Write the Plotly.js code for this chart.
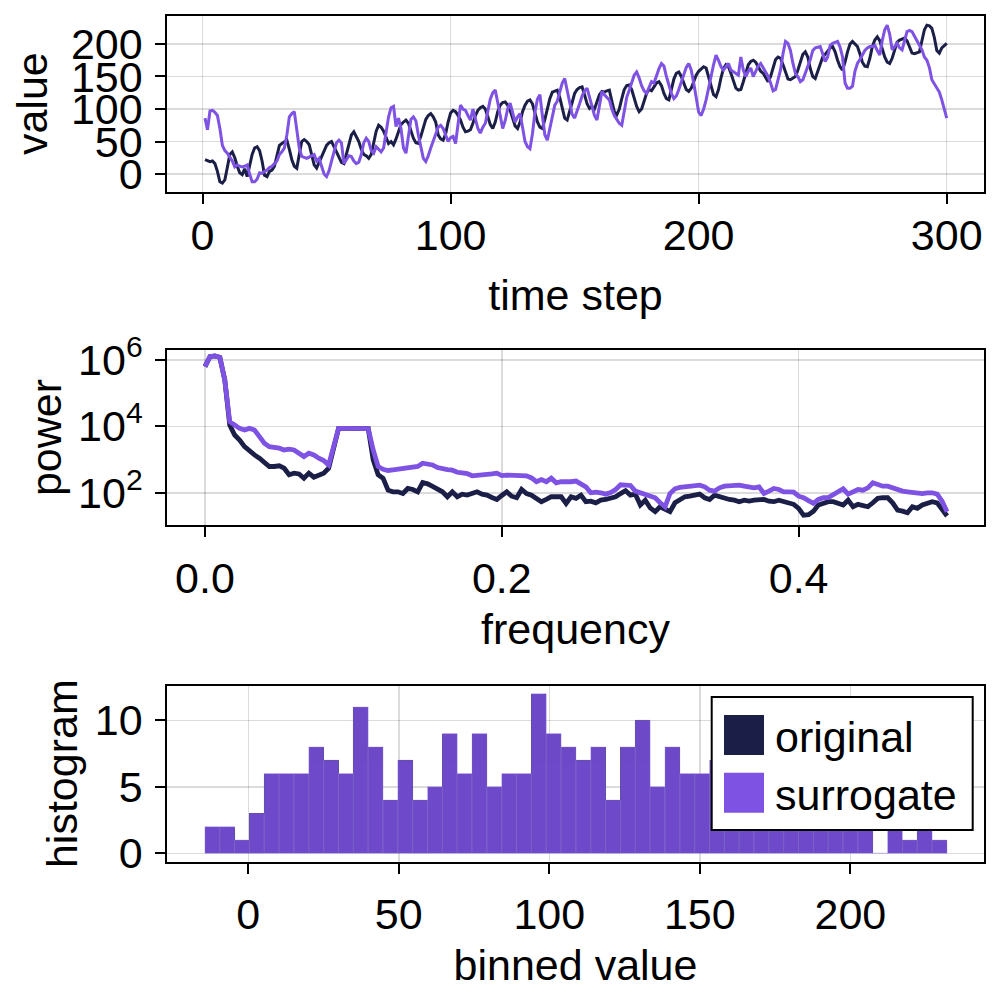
<!DOCTYPE html>
<html>
<head>
<meta charset="utf-8">
<script src="https://cdn.plot.ly/plotly-3.0.1.min.js"></script>
<style>html,body{margin:0;padding:0;background:#fff;}#chart{width:1000px;height:1000px;}</style>
</head>
<body>
<div id="chart"></div>
<script>
// ---------- data ----------
const seriesNames = ["original", "surrogate"];

const originalValues = [
  22,21,19,20,16,4,-12,-14,-9,10,
  30,34,25,12,2,-1,8,-4,12,30,
  40,42,36,20,-2,-4,4,6,12,30,
  44,47,50,52,38,22,12,9,30,50,
  53,50,45,28,14,9,18,28,36,44,
  48,50,42,34,24,18,16,30,48,60,
  65,58,50,38,30,28,24,30,48,66,
  75,72,66,55,47,50,45,54,64,76,
  80,83,78,66,55,48,47,58,72,84,
  90,93,88,80,60,54,52,62,80,94,
  98,96,90,83,72,65,66,68,78,90,
  98,102,104,100,88,76,70,80,96,106,
  110,111,106,98,86,74,70,80,96,106,
  112,114,108,94,80,72,70,84,102,116,
  126,128,129,118,100,86,83,95,110,124,
  130,133,134,122,108,101,104,100,110,122,
  127,126,128,129,112,96,91,100,116,130,
  136,137,130,118,104,96,100,112,124,130,
  128,134,140,142,136,124,116,114,128,146,
  155,157,150,140,130,127,132,142,152,158,
  162,165,163,150,135,122,119,130,148,162,
  168,165,155,142,132,129,130,142,156,168,
  173,175,172,165,158,155,148,142,150,165,
  176,180,178,168,155,146,145,148,150,160,
  174,184,188,180,162,150,147,158,172,180,
  184,190,194,196,188,175,165,160,172,188,
  200,204,200,196,185,172,166,165,178,196,
  206,211,205,192,180,172,170,178,192,203,
  206,208,209,205,195,186,185,186,188,205,
  222,229,228,224,210,190,186,194,198,201
];

const surrogateValues = [
  86,68,97,98,95,90,70,44,36,32,
  26,20,11,14,12,11,12,14,0,-12,
  -12,-8,2,1,4,6,10,12,16,20,
  30,34,40,60,88,93,96,70,40,27,
  26,24,26,28,30,20,24,12,0,-4,
  5,20,36,48,52,48,16,22,28,27,
  20,16,18,30,48,55,50,36,32,42,
  38,34,40,62,88,102,104,73,86,70,
  40,32,60,84,88,82,60,40,24,19,
  28,40,50,62,72,75,70,60,50,56,
  58,47,80,106,100,98,90,83,100,86,
  70,63,72,78,95,115,125,129,110,88,
  70,82,100,109,95,80,88,93,72,50,
  42,39,62,95,115,122,90,60,52,70,
  90,106,112,125,140,147,130,108,92,86,
  96,108,120,128,132,118,100,90,83,105,
  127,122,118,114,100,90,84,78,75,96,
  118,129,140,152,157,148,136,128,124,134,
  142,140,152,162,170,166,150,136,124,116,
  120,130,142,155,164,170,160,140,118,95,
  90,100,114,130,150,168,183,175,165,160,
  166,170,160,157,154,152,180,160,150,158,
  163,150,158,166,170,163,157,150,140,128,
  130,145,160,185,204,201,190,170,155,150,
  142,145,155,165,176,190,194,195,196,185,
  173,180,198,201,203,204,195,180,140,132,
  132,135,158,170,176,183,190,194,196,196,
  198,190,183,205,222,229,215,191,196,201,
  194,191,205,219,221,219,212,206,198,191,
  180,175,164,145,139,132,126,114,100,86
];

const originalPower = [
  6.3e5,1.26e6,1.32e6,1.2e6,2.5e5,1.1e4,5.5e3,3.9e3,2.45e3,1.74e3,
  1.38e3,1.1e3,780,620,620,650,550,350,390,370,
  275,390,295,325,390,550,2.45e3,8.7e3,8.7e3,8.7e3,
  8.7e3,8.7e3,8.7e3,8.5e3,980,350,275,120,107,107,
  95,135,126,107,204,186,155,123,107,76,
  107,76,91,85,95,107,91,85,72,63,
  83,107,79,71,126,95,85,71,54,63,
  76,76,76,48,76,68,85,54,56,50,
  60,63,68,76,95,115,85,91,43,60,
  35,27,38,32,27,50,63,76,79,85,
  91,71,63,85,76,68,63,60,54,60,
  56,60,63,63,56,54,60,54,50,45,
  34,21,22,28,43,50,54,54,48,43,
  60,38,45,43,38,50,68,71,71,50,
  30,28,25,38,34,43,50,54,50,32,
  20
];

const surrogatePower = [
  6.3e5,1.26e6,1.32e6,1.2e6,2.5e5,1.38e4,1.1e4,8.7e3,7.8e3,8.7e3,
  7.8e3,4.9e3,3.1e3,2.45e3,2.35e3,2.2e3,1.95e3,2.05e3,1.95e3,1.55e3,
  1.23e3,1.55e3,1.38e3,1.1e3,930,690,2.45e3,8.7e3,8.7e3,8.7e3,
  8.7e3,8.7e3,8.7e3,8.5e3,1.95e3,620,510,470,490,510,
  510,550,550,620,780,740,690,575,525,500,
  480,415,400,380,325,330,345,355,370,390,
  330,340,330,345,330,325,280,215,250,215,
  275,200,215,210,215,225,180,150,100,105,
  100,91,102,126,174,166,166,112,100,91,
  79,71,50,38,95,132,145,151,151,158,
  170,151,120,112,141,158,166,174,170,158,
  151,141,151,95,112,135,126,107,107,105,
  79,71,58,48,63,71,72,89,115,132,
  91,112,126,120,141,200,178,158,158,141,
  120,112,107,105,95,95,100,100,91,56,
  27
];

// histogram: 50 equal bins starting at histStart, width histWidth
const histStart = -14.4;
const histWidth = 4.93;
const histCounts = [
  2,2,1,3,6,6,6,8,7,6,
  11,8,4,7,4,5,9,6,9,5,
  6,6,12,9,8,7,8,4,8,10,
  5,8,6,6,7,7,8,6,9,6,
  8,7,5,7,5,0,3,1,2,1
];

const xTicks1 = [0,100,200,300];
const yTicks1 = [0,50,100,150,200];
const xTicks2 = [0,0.2,0.4];
const xTickText2 = ["0.0","0.2","0.4"];
const yTicks2 = [1e2,1e4,1e6];
const yTickText2 = ["10<sup>2</sup>","10<sup>4</sup>","10<sup>6</sup>"];
const xTicks3 = [0,50,100,150,200];
const yTicks3 = [0,5,10];

// ---------- derived domains ----------
const timeStep = originalValues.map((_, i) => i + 1);
const frequency = originalPower.map((_, i) => i / 300);
const binCenters = histCounts.map((_, k) => histStart + histWidth * (k + 0.5));

// ---------- style ----------
const NAVY = "#1b1f47";
const PURPLE = "#7e52e2";
const FONT = "Liberation Sans, Arial, Helvetica, sans-serif";
const FS = 43;

const traces = [
  {x: timeStep, y: originalValues, type: "scatter", mode: "lines", name: seriesNames[0],
   line: {color: NAVY, width: 3}, xaxis: "x", yaxis: "y", showlegend: false},
  {x: timeStep, y: surrogateValues, type: "scatter", mode: "lines", name: seriesNames[1],
   line: {color: PURPLE, width: 3}, xaxis: "x", yaxis: "y", showlegend: false},
  {x: frequency, y: originalPower, type: "scatter", mode: "lines", name: seriesNames[0],
   line: {color: NAVY, width: 4.8}, xaxis: "x2", yaxis: "y2", showlegend: false},
  {x: frequency, y: surrogatePower, type: "scatter", mode: "lines", name: seriesNames[1],
   line: {color: PURPLE, width: 4.8}, xaxis: "x2", yaxis: "y2", showlegend: false},
  {x: binCenters, y: histCounts, type: "bar", width: histWidth, name: seriesNames[0],
   marker: {color: NAVY, line: {width: 0}}, xaxis: "x3", yaxis: "y3", showlegend: false},
  {x: binCenters, y: histCounts, type: "bar", width: histWidth, name: seriesNames[1],
   marker: {color: PURPLE, opacity: 0.84, line: {width: 0.6, color: "rgba(160,140,225,0.7)"}},
   xaxis: "x3", yaxis: "y3", showlegend: false}
];

function axisBase(extra) {
  return Object.assign({
    showline: true, mirror: true, linecolor: "black", linewidth: 2,
    ticks: "outside", ticklen: 10, tickwidth: 2, tickcolor: "black",
    showgrid: true, gridcolor: "rgba(0,0,0,0.14)", gridwidth: 1.5,
    zeroline: false, automargin: false,
    tickfont: {family: FONT, size: FS, color: "black"},
    ticklabelstandoff: 4
  }, extra);
}
const titleFont = {family: FONT, size: FS, color: "black"};

const layout = {
  width: 1000, height: 1000,
  margin: {l: 0, r: 0, t: 0, b: 0},
  paper_bgcolor: "white", plot_bgcolor: "white",
  barmode: "overlay", bargap: 0,
  font: {family: FONT, size: FS, color: "black"},
  showlegend: false,
  xaxis: axisBase({domain: [0.1673, 0.9837], range: [-14.2, 314.9], tickvals: xTicks1,
    anchor: "y", ticklabelstandoff: -5, title: {text: "time step", font: titleFont, standoff: 22}}),
  yaxis: axisBase({domain: [0.8083, 0.9843], range: [-27.2, 243.5], tickvals: yTicks1,
    anchor: "x", title: {text: "value", font: titleFont, standoff: 10}}),
  xaxis2: axisBase({domain: [0.1673, 0.9837], range: [-0.0254, 0.5247], tickvals: xTicks2, ticktext: xTickText2,
    anchor: "y2", title: {text: "frequency", font: titleFont, standoff: 13}}),
  yaxis2: axisBase({domain: [0.475, 0.65], type: "log", range: [1.03, 6.30], tickvals: yTicks2, ticktext: yTickText2,
    anchor: "x2", title: {text: "power", font: titleFont, standoff: 3}}),
  xaxis3: axisBase({domain: [0.1673, 0.9837], range: [-26.9, 244.3], tickvals: xTicks3,
    anchor: "y3", title: {text: "binned value", font: titleFont, standoff: 13}}),
  yaxis3: axisBase({domain: [0.1383, 0.3143], range: [-0.63, 12.6], tickvals: yTicks3,
    anchor: "x3", title: {text: "histogram", font: titleFont, standoff: 4}}),
  shapes: [
    {type: "rect", xref: "paper", yref: "paper", x0: 0.7117, x1: 0.9727, y0: 0.170, y1: 0.303,
     fillcolor: "white", line: {color: "black", width: 2}, layer: "above"},
    {type: "rect", xref: "paper", yref: "paper", x0: 0.724, x1: 0.764, y0: 1 - 0.755, y1: 1 - 0.715,
     fillcolor: NAVY, line: {width: 0}, layer: "above"},
    {type: "rect", xref: "paper", yref: "paper", x0: 0.724, x1: 0.764, y0: 1 - 0.8127, y1: 1 - 0.7727,
     fillcolor: PURPLE, line: {width: 0}, layer: "above"}
  ],
  annotations: [
    {xref: "paper", yref: "paper", x: 0.773, y: 1 - 0.737, xanchor: "left", yanchor: "middle",
     text: seriesNames[0], showarrow: false, font: {family: FONT, size: FS, color: "black"}},
    {xref: "paper", yref: "paper", x: 0.773, y: 1 - 0.795, xanchor: "left", yanchor: "middle",
     text: seriesNames[1], showarrow: false, font: {family: FONT, size: FS, color: "black"}}
  ]
};

Plotly.newPlot("chart", traces, layout, {displayModeBar: false, staticPlot: true});
</script>
</body>
</html>
